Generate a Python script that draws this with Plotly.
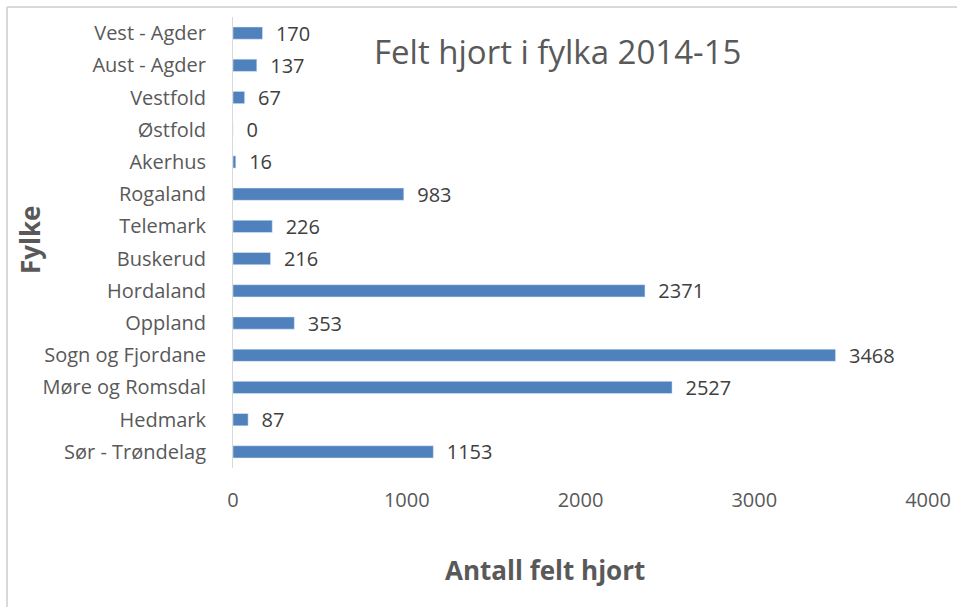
import plotly.graph_objects as go

categories = ["Sør - Trøndelag", "Hedmark", "Møre og Romsdal", "Sogn og Fjordane", "Oppland",
              "Hordaland", "Buskerud", "Telemark", "Rogaland", "Akerhus", "Østfold",
              "Vestfold", "Aust - Agder", "Vest - Agder"]
values = [1153, 87, 2527, 3468, 353, 2371, 216, 226, 983, 16, 0, 67, 137, 170]
x_ticks = [0, 1000, 2000, 3000, 4000]

FONT = "Open Sans"
GREY = "#595959"

W, H = 957, 607
L, R, T, B = 233, 29, 17, 139
pw, ph = W - L - R, H - T - B


def px(x):
    return (x - L) / pw


def py(y):
    return (H - B - y) / ph


fig = go.Figure(go.Bar(
    y=categories, x=values, orientation="h",
    marker=dict(color="#4f81bd"),
    texttemplate="  %{x}",
    textposition="outside",
    constraintext="none",
    textfont=dict(family=FONT, size=20, color="#404040"),
    cliponaxis=False,
))

fig.update_layout(
    width=W, height=H,
    margin=dict(l=L, r=R, t=T, b=B, autoexpand=False),
    paper_bgcolor="white", plot_bgcolor="white",
    bargap=0.62,
    showlegend=False,
    font=dict(family=FONT, color=GREY),
    xaxis=dict(range=[0, 4000], tickvals=x_ticks, showgrid=False, zeroline=False,
               showline=False, ticks="outside", ticklen=14, tickcolor="rgba(0,0,0,0)",
               automargin=False,
               tickfont=dict(family=FONT, size=20, color=GREY)),
    yaxis=dict(showgrid=False, zeroline=False, showline=True, linecolor="#d9d9d9", linewidth=1,
               ticks="outside", ticklen=22, tickcolor="rgba(0,0,0,0)", automargin=False,
               tickfont=dict(family=FONT, size=20, color=GREY),
               categoryorder="array", categoryarray=categories),
)

fig.add_annotation(text="Felt hjort i fylka 2014-15", xref="paper", yref="paper",
                   x=px(557), y=py(51), xanchor="center", yanchor="middle",
                   showarrow=False, font=dict(family=FONT, size=33, color=GREY))
fig.add_annotation(text="<b>Antall felt hjort</b>", xref="paper", yref="paper",
                   x=px(545), y=py(570), xanchor="center", yanchor="middle",
                   showarrow=False, font=dict(family=FONT, size=26, color=GREY))
fig.add_annotation(text="<b>Fylke</b>", xref="paper", yref="paper",
                   x=px(30), y=py(240), xanchor="center", yanchor="middle", textangle=-90,
                   showarrow=False, font=dict(family=FONT, size=26, color=GREY))

border = dict(color="#d9d9d9", width=2)
fig.add_shape(type="line", xref="paper", yref="paper",
              x0=px(7), x1=px(960), y0=py(7), y1=py(7), line=border, layer="below")
fig.add_shape(type="line", xref="paper", yref="paper",
              x0=px(7), x1=px(7), y0=py(7), y1=py(610), line=border, layer="below")

fig.write_html("out.html", config={"displayModeBar": False},
               post_script="document.body.style.margin='0';document.body.style.overflow='hidden';")
